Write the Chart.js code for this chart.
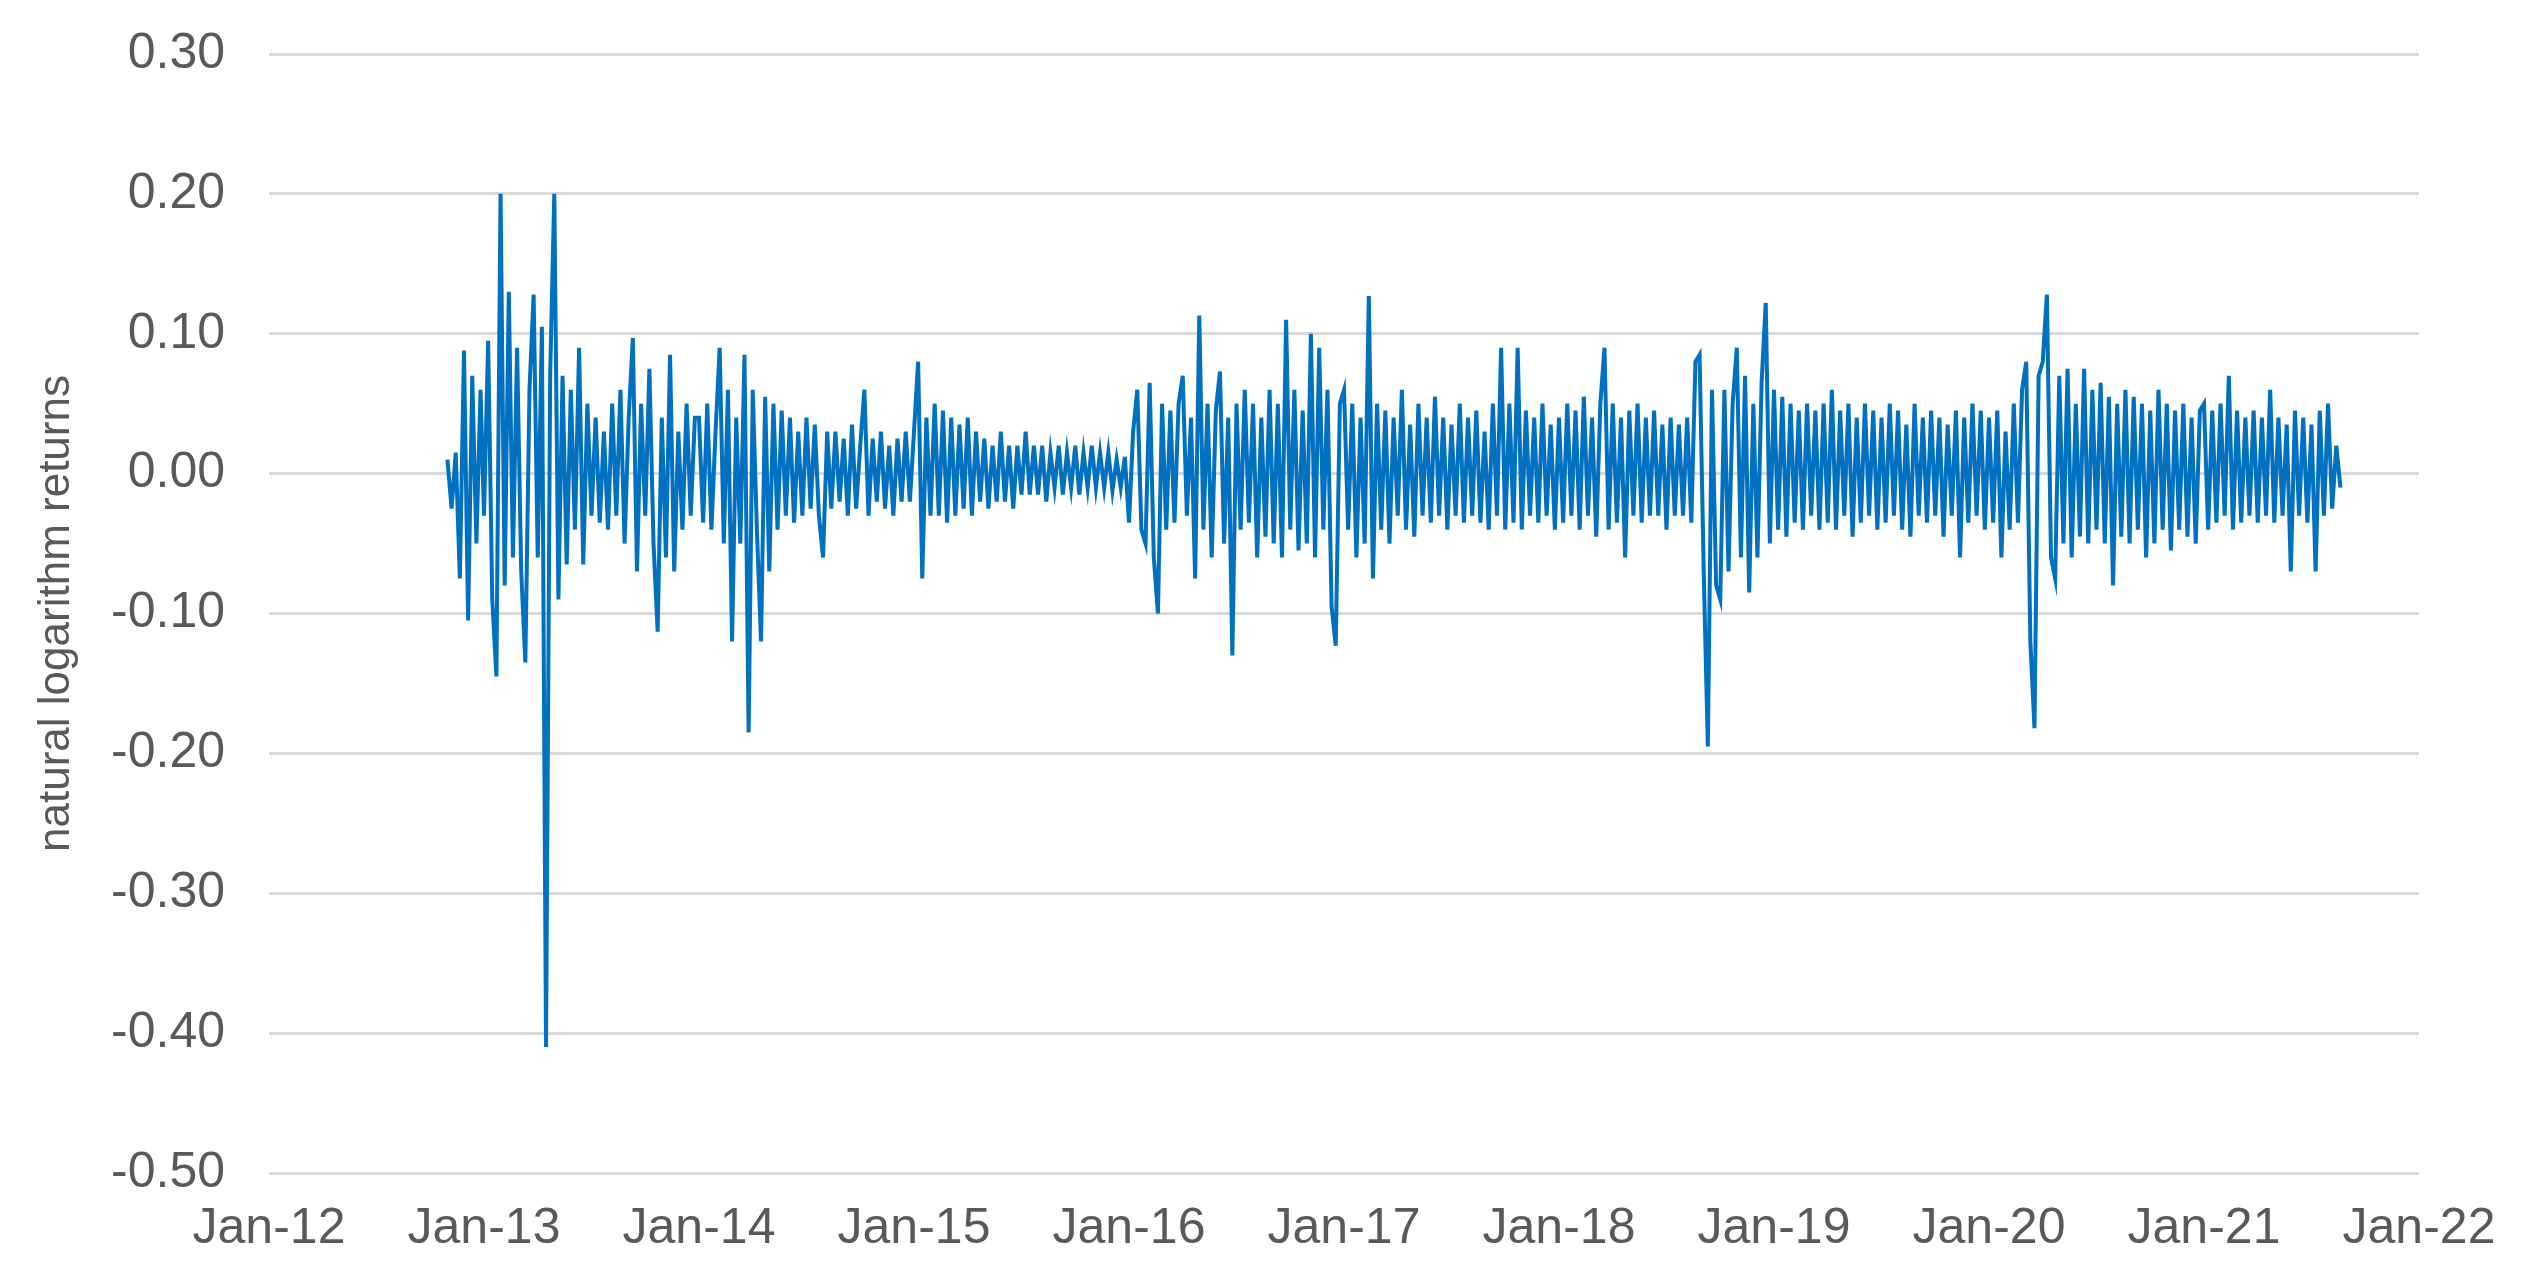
<!DOCTYPE html>
<html><head><meta charset="utf-8">
<script src="https://cdn.jsdelivr.net/npm/chart.js@4.4.1/dist/chart.umd.min.js"></script>
<style>html,body{margin:0;padding:0;background:#fff}#wrap{width:2529px;height:1279px}</style>
</head><body><div id="wrap"><canvas id="c" width="2529" height="1279"></canvas></div>
<script>
const yTicks=[-0.5,-0.4,-0.3,-0.2,-0.1,0,0.1,0.2,0.3];
const xTickYears=[2012,2013,2014,2015,2016,2017,2018,2019,2020,2021,2022];
const yTitle="natural logarithm returns";
const stepPerYear=52;
const r2012=[0.01,-0.025,0.015,-0.075,0.088,-0.105,0.07,-0.05,0.06];
const r2013=[-0.03,0.095,-0.09,-0.145,0.20,-0.08,0.13,-0.06,0.09,-0.07,-0.135,0.06,0.128,-0.06,0.105,-0.41,0.07,0.20,-0.09,0.07,-0.065,0.06,-0.04,0.09,-0.065,0.05,-0.03,0.04,-0.035,0.03,-0.04,0.05,-0.03,0.06,-0.05,0.04,0.097,-0.07,0.05,-0.03,0.075,-0.05,-0.113,0.04,-0.06,0.085,-0.07,0.03,-0.04,0.05,-0.03,0.04];
const r2014=[0.04,-0.035,0.05,-0.04,0.03,0.09,-0.05,0.06,-0.12,0.04,-0.05,0.085,-0.185,0.06,-0.04,-0.12,0.055,-0.07,0.05,-0.04,0.045,-0.03,0.04,-0.035,0.03,-0.03,0.04,-0.025,0.035,-0.03,-0.06,0.03,-0.025,0.03,-0.02,0.025,-0.03,0.035,-0.025,0.02,0.06,-0.03,0.025,-0.02,0.03,-0.025,0.02,-0.03,0.025,-0.02,0.03,-0.02];
const r2015=[0.03,0.08,-0.075,0.04,-0.03,0.05,-0.03,0.045,-0.035,0.04,-0.03,0.035,-0.025,0.04,-0.03,0.03,-0.02,0.025,-0.025,0.02,-0.02,0.03,-0.02,0.02,-0.025,0.02,-0.015,0.03,-0.015,0.02,-0.015,0.02,-0.02,0.015,-0.01,0.02,-0.015,0.015,-0.01,0.02,-0.015,0.015,-0.01,0.02,-0.01,0.015,-0.01,0.015,-0.012,0.01,-0.01,0.012];
const r2016=[-0.035,0.03,0.06,-0.04,-0.05,0.065,-0.06,-0.1,0.05,-0.04,0.045,-0.035,0.05,0.07,-0.03,0.04,-0.075,0.113,-0.04,0.05,-0.06,0.045,0.073,-0.05,0.04,-0.13,0.05,-0.04,0.06,-0.035,0.05,-0.06,0.04,-0.045,0.06,-0.05,0.05,-0.06,0.11,-0.04,0.06,-0.055,0.045,-0.05,0.1,-0.06,0.09,-0.04,0.06,-0.095,-0.123,0.05];
const r2017=[0.06,-0.04,0.05,-0.06,0.04,-0.05,0.127,-0.075,0.05,-0.04,0.045,-0.05,0.04,-0.03,0.06,-0.04,0.035,-0.045,0.05,-0.03,0.04,-0.035,0.055,-0.03,0.04,-0.04,0.035,-0.03,0.05,-0.035,0.04,-0.03,0.045,-0.035,0.03,-0.04,0.05,-0.03,0.09,-0.04,0.05,-0.035,0.09,-0.04,0.045,-0.03,0.04,-0.035,0.05,-0.03,0.035,-0.04];
const r2018=[0.04,-0.035,0.05,-0.03,0.045,-0.04,0.055,-0.03,0.04,-0.045,0.05,0.09,-0.04,0.05,-0.035,0.04,-0.06,0.045,-0.03,0.05,-0.035,0.04,-0.03,0.045,-0.03,0.035,-0.04,0.04,-0.03,0.035,-0.03,0.04,-0.035,0.08,0.085,-0.07,-0.195,0.06,-0.08,-0.09,0.06,-0.07,0.05,0.09,-0.06,0.07,-0.085,0.05,-0.06,0.065,0.122,-0.05];
const r2019=[0.06,-0.04,0.055,-0.045,0.05,-0.035,0.045,-0.04,0.05,-0.03,0.045,-0.04,0.05,-0.035,0.06,-0.04,0.045,-0.03,0.05,-0.045,0.04,-0.035,0.05,-0.03,0.045,-0.04,0.04,-0.035,0.05,-0.03,0.045,-0.04,0.035,-0.045,0.05,-0.03,0.04,-0.035,0.045,-0.03,0.04,-0.045,0.035,-0.03,0.045,-0.06,0.04,-0.035,0.05,-0.03,0.045,-0.04];
const r2020=[0.04,-0.035,0.045,-0.06,0.03,-0.04,0.05,-0.035,0.06,0.08,-0.12,-0.182,0.07,0.08,0.128,-0.06,-0.075,0.07,-0.05,0.075,-0.06,0.05,-0.045,0.075,-0.05,0.06,-0.04,0.065,-0.05,0.055,-0.08,0.05,-0.045,0.06,-0.05,0.055,-0.04,0.05,-0.06,0.045,-0.05,0.06,-0.04,0.05,-0.055,0.045,-0.04,0.05,-0.045,0.04,-0.05,0.045];
const r2021=[0.05,-0.04,0.045,-0.035,0.05,-0.03,0.07,-0.04,0.045,-0.035,0.04,-0.03,0.045,-0.035,0.04,-0.03,0.06,-0.035,0.04,-0.03,0.035,-0.07,0.045,-0.03,0.04,-0.035,0.035,-0.07,0.045,-0.03,0.05,-0.025,0.02,-0.01];
const segments=[[2012.83,r2012],[2013,r2013],[2014,r2014],[2015,r2015],[2016,r2016],[2017,r2017],[2018,r2018],[2019,r2019],[2020,r2020],[2021,r2021]];
const points=[];
segments.forEach(([s,vals])=>vals.forEach((v,i)=>points.push({x:s+i/stepPerYear,y:v})));
const font="'Liberation Sans', Arial, sans-serif";
new Chart(document.getElementById('c'),{
 type:'line',
 data:{datasets:[{data:points,borderColor:'#0070c0',borderWidth:4,pointRadius:0,tension:0}]},
 options:{responsive:false,animation:false,
  layout:{padding:{top:52,right:110,left:30,bottom:0}},
  plugins:{legend:{display:false},tooltip:{enabled:false}},
  scales:{
   x:{type:'linear',min:2012,max:2022,afterBuildTicks:s=>{s.ticks=xTickYears.map(v=>({value:v}));},
      grid:{display:false},border:{display:false},
      ticks:{color:'#595959',font:{family:font,size:50},padding:18,maxRotation:0,autoSkip:false,callback:v=>'Jan-'+String(v).slice(2)},
      afterFit:s=>{s.height=106;}},
   y:{min:-0.5,max:0.3,afterBuildTicks:s=>{s.ticks=yTicks.map(v=>({value:v}));},
      grid:{color:'#d9d9d9',lineWidth:3,drawTicks:false},border:{display:false},
      ticks:{color:'#595959',font:{family:font,size:50,lineHeight:0.4},padding:44,callback:v=>v.toFixed(2)},
      title:{display:true,text:yTitle,color:'#595959',font:{family:font,size:44},padding:0},
      afterFit:s=>{s.width=239;}}
  }}
});
</script></body></html>
